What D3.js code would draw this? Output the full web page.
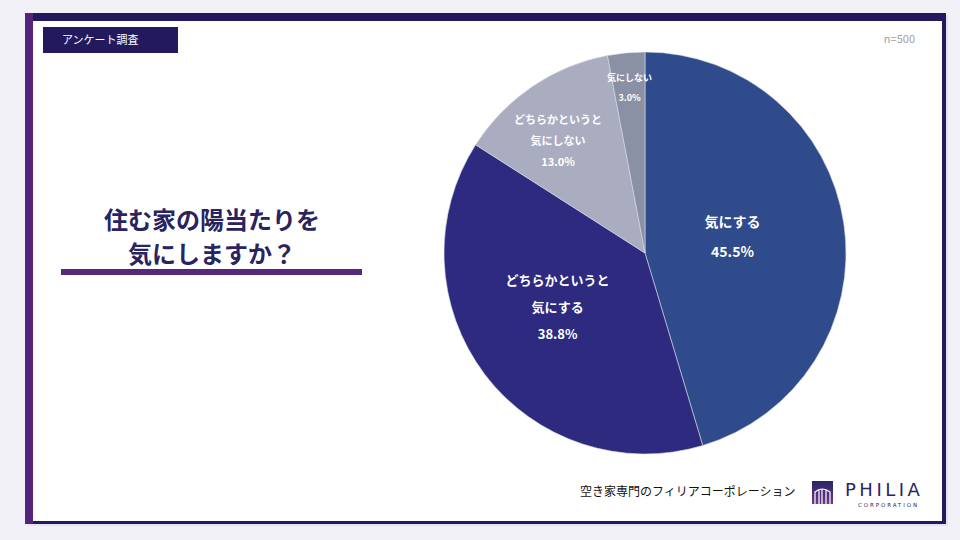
<!DOCTYPE html>
<html>
<head>
<meta charset="utf-8">
<script src="https://cdn.jsdelivr.net/npm/d3@7"></script>
<style>
  body { margin: 0; background: #f3f1f8; }
  svg { display: block; font-family: "Noto Sans CJK JP", "Noto Sans", sans-serif; }
</style>
</head>
<body>
<div id="chart"></div>
<script>
// data
var categories = ["気にする", "どちらかというと気にする", "どちらかというと気にしない", "気にしない"];
var labelLines = [["気にする"], ["どちらかというと", "気にする"], ["どちらかというと", "気にしない"], ["気にしない"]];
var values = [45.5, 38.8, 13.0, 3.0];
var sampleLabel = "n=500";
var titleLines = ["住む家の陽当たりを", "気にしますか？"];

// styles
var colors = ["#2f4b8b", "#2d2a80", "#a9adbf", "#8b91a4"];
var labelRadius = [0.44, 0.52, 0.70, 0.82];
var labelNudge = [[0, -3], [-4, -9], [-8, 5], [0, -1]];
var labelSize = [14, 13, 11, 9];
var lineGap = [30, 27, 21, 20];

var W = 960, H = 540;
var svg = d3.select("#chart").append("svg")
  .attr("width", W).attr("height", H);

// card
svg.append("rect").attr("x", 27).attr("y", 15).attr("width", 921).attr("height", 511)
  .attr("fill", "#e6e3ee");
svg.append("rect").attr("x", 25).attr("y", 13).attr("width", 921).attr("height", 511)
  .attr("fill", "#221a5c");
svg.append("rect").attr("x", 25).attr("y", 13).attr("width", 8).attr("height", 511)
  .attr("fill", "#55247a");
svg.append("rect").attr("x", 33).attr("y", 21).attr("width", 909).attr("height", 500)
  .attr("fill", "#ffffff");

// header tag
svg.append("rect").attr("x", 43).attr("y", 27).attr("width", 135).attr("height", 26)
  .attr("fill", "#221a5c");
svg.append("text").attr("x", 62).attr("y", 44)
  .attr("fill", "#fff").attr("font-size", 11).text("アンケート調査");

svg.append("text").attr("x", 915).attr("y", 43).attr("text-anchor", "end")
  .attr("fill", "#a0a0a8").attr("font-size", 11).text(sampleLabel);

// title
svg.selectAll(".title").data(titleLines).enter().append("text")
  .attr("class", "title")
  .attr("x", 212).attr("y", function(d, i) { return 229 + i * 34; })
  .attr("text-anchor", "middle")
  .attr("fill", "#29235f").attr("font-size", 24).attr("font-weight", "bold")
  .text(function(d) { return d; });
svg.append("rect").attr("x", 61).attr("y", 269).attr("width", 301).attr("height", 6)
  .attr("fill", "#57287a");

// pie
var cx = 645, cy = 253, r = 201;
var pie = d3.pie().sort(null).value(function(d) { return d; });
var arcs = pie(values);
var arc = d3.arc().innerRadius(0).outerRadius(r);

var g = svg.append("g").attr("transform", "translate(" + cx + "," + cy + ")");
g.selectAll("path").data(arcs).enter().append("path")
  .attr("d", arc)
  .attr("fill", function(d, i) { return colors[i]; })
  .attr("stroke", "#d8dae4").attr("stroke-width", 0.6);

var lbl = g.selectAll(".lbl").data(arcs).enter().append("g").attr("class", "lbl")
  .attr("transform", function(d, i) {
    var c = d3.arc().innerRadius(r * labelRadius[i]).outerRadius(r * labelRadius[i]).centroid(d);
    return "translate(" + (c[0] + labelNudge[i][0]) + "," + (c[1] + labelNudge[i][1]) + ")";
  });
lbl.each(function(d, i) {
  var lines = labelLines[i].concat([d3.format(".1f")(values[i]) + "%"]);
  var n = lines.length;
  d3.select(this).selectAll("text").data(lines).enter().append("text")
    .attr("text-anchor", "middle")
    .attr("y", function(t, j) { return (j - (n - 1) / 2) * lineGap[i] + labelSize[i] * 0.35; })
    .attr("fill", "#fff").attr("font-size", labelSize[i]).attr("font-weight", "bold")
    .text(function(t) { return t; });
});

// footer
svg.append("text").attr("x", 580).attr("y", 496)
  .attr("fill", "#111").attr("font-size", 12).text("空き家専門のフィリアコーポレーション");

var grad = svg.append("defs").append("linearGradient").attr("id", "lg")
  .attr("x1", 0).attr("y1", 0).attr("x2", 0).attr("y2", 1);
grad.append("stop").attr("offset", "0%").attr("stop-color", "#2a2466");
grad.append("stop").attr("offset", "100%").attr("stop-color", "#6a3a8a");
svg.append("rect").attr("x", 812).attr("y", 481).attr("width", 21).attr("height", 23)
  .attr("fill", "url(#lg)");
svg.append("path")
  .attr("d", "M815,504 L815,492 Q822,486 830,492 L830,504 M819,504 L819,490 M822,504 L822,489 M826,504 L826,490")
  .attr("fill", "none").attr("stroke", "#fff").attr("stroke-width", 1.2);
svg.append("text").attr("x", 845).attr("y", 496)
  .attr("fill", "#2a2466").attr("font-size", 18).attr("letter-spacing", 3.5)
  .attr("font-family", "DejaVu Sans, sans-serif").text("PHILIA");
svg.append("text").attr("x", 858).attr("y", 507)
  .attr("fill", "#2a2466").attr("font-size", 5.5).attr("letter-spacing", 1.9)
  .attr("font-family", "DejaVu Sans, sans-serif").text("CORPORATION");
</script>
</body>
</html>
